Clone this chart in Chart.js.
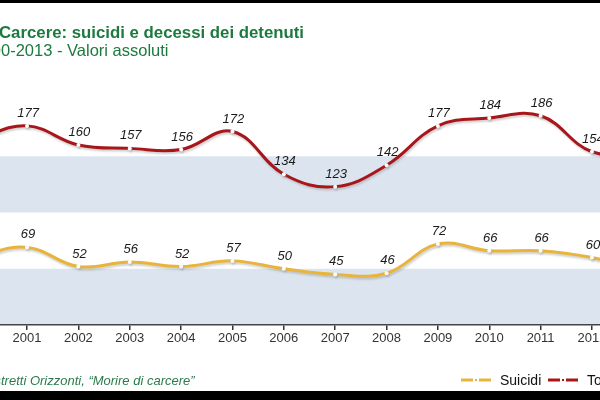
<!DOCTYPE html>
<html>
<head>
<meta charset="utf-8">
<script src="https://cdn.jsdelivr.net/npm/chart.js@4/dist/chart.umd.min.js"></script>
<style>
html,body{margin:0;padding:0;width:600px;height:400px;overflow:hidden;background:#fff;}
#wrap{position:absolute;left:-80px;top:0;width:780px;height:400px;}
</style>
</head>
<body>
<div id="wrap"><canvas id="c" width="780" height="400"></canvas></div>
<script>
const years = ['2000','2001','2002','2003','2004','2005','2006','2007','2008','2009','2010','2011','2012','2013'];
const suicidi = [61, 69, 52, 56, 52, 57, 50, 45, 46, 72, 66, 66, 60, 49];
const totale = [165, 177, 160, 157, 156, 172, 134, 123, 142, 177, 184, 186, 154, 153];
const seriesNames = ['Suicidi', 'Totale'];
const titleText = 'Carcere: suicidi e decessi dei detenuti';
const subtitleText = 'Anni 2000-2013 - Valori assoluti';
const sourceText = 'Fonte: Ristretti Orizzonti, \u201cMorire di carcere\u201d';

const OFF = 80; // canvas offset relative to page
const GREEN = '#1c7a3e';
const RED = '#a8161b';
const YEL = '#e9b43c';
const BAND = '#dce5ef';

const decor = {
  id: 'decor',
  beforeDraw(chart) {
    const {ctx, chartArea: a, scales: {y}} = chart;
    ctx.save();
    ctx.fillStyle = BAND;
    [[0,50],[100,150]].forEach(([lo,hi]) => {
      const t = y.getPixelForValue(hi), b = y.getPixelForValue(lo);
      ctx.fillRect(a.left, t, a.right - a.left, b - t);
    });
    ctx.restore();
  },
  beforeDatasetDraw(chart) {
    const ctx = chart.ctx;
    ctx.save();
    ctx.shadowColor = 'rgba(140,140,140,0.4)';
    ctx.shadowOffsetX = 1;
    ctx.shadowOffsetY = 2;
    ctx.shadowBlur = 2;
  },
  afterDatasetDraw(chart) {
    chart.ctx.restore();
  },
  afterDraw(chart) {
    const ctx = chart.ctx;
    ctx.save();
    // value labels
    ctx.font = 'italic 13px "Liberation Sans", Arial, sans-serif';
    ctx.fillStyle = '#1a1a1a';
    ctx.textAlign = 'center';
    ctx.textBaseline = 'alphabetic';
    chart.data.datasets.forEach((ds, i) => {
      const meta = chart.getDatasetMeta(i);
      meta.data.forEach((pt, j) => {
        ctx.fillText(String(ds.data[j]), pt.x + 1, pt.y - 9);
      });
    });
    // black bands
    ctx.fillStyle = '#000';
    ctx.fillRect(0, 0, chart.width, 3);
    ctx.fillRect(0, 391, chart.width, 9);
    // title
    ctx.textAlign = 'left';
    ctx.fillStyle = GREEN;
    ctx.font = 'bold 16.8px "Liberation Sans", Arial, sans-serif';
    ctx.fillText(titleText, OFF - 1, 38);
    ctx.font = '16.5px "Liberation Sans", Arial, sans-serif';
    const pre = ctx.measureText('Anni 200').width;
    ctx.fillText(subtitleText, OFF + 1 - pre, 56);
    // source
    ctx.font = 'italic 13px "Liberation Sans", Arial, sans-serif';
    ctx.fillStyle = '#2a7a4c';
    const pre2 = ctx.measureText('Fonte: Ris').width;
    ctx.fillText(sourceText, OFF + 1 - pre2, 385);
    // legend
    const items = [[seriesNames[0], YEL, 461], [seriesNames[1], RED, 548]];
    ctx.font = '14px "Liberation Sans", Arial, sans-serif';
    items.forEach(([name, col, px]) => {
      const x = OFF + px, yy = 380;
      ctx.strokeStyle = col;
      ctx.lineWidth = 3;
      ctx.beginPath(); ctx.moveTo(x, yy); ctx.lineTo(x + 12, yy); ctx.stroke();
      ctx.beginPath(); ctx.moveTo(x + 18, yy); ctx.lineTo(x + 30, yy); ctx.stroke();
      ctx.fillStyle = col;
      ctx.fillRect(x + 14, yy - 1, 2, 2);
      ctx.fillStyle = '#111';
      ctx.fillText(name, x + 39, yy + 5);
    });
    ctx.restore();
  }
};

new Chart(document.getElementById('c'), {
  type: 'line',
  data: {
    labels: years,
    datasets: [
      { label: seriesNames[1], data: totale, borderColor: RED, borderWidth: 3, tension: 0.4,
        pointRadius: 2, pointBackgroundColor: '#fff', pointBorderWidth: 0, fill: false },
      { label: seriesNames[0], data: suicidi, borderColor: YEL, borderWidth: 3, tension: 0.4,
        pointRadius: 2, pointBackgroundColor: '#fff', pointBorderWidth: 0, fill: false }
    ]
  },
  options: {
    responsive: false,
    animation: false,
    layout: { padding: { left: 30, right: 31, top: 100, bottom: 0 } },
    plugins: { legend: { display: false }, tooltip: { enabled: false }, title: { display: false } },
    scales: {
      y: { display: false, min: 0, max: 200 },
      x: {
        offset: true,
        grid: { display: true, drawOnChartArea: false, offset: false, tickLength: 5, color: '#333', lineWidth: 1.5 },
        border: { display: true, color: '#444', width: 1.5 },
        ticks: { color: '#333', font: { size: 13, family: '"Liberation Sans", Arial, sans-serif' }, padding: 1, maxRotation: 0, autoSkip: false },
        afterFit(scale) { scale.height = 75; }
      }
    }
  },
  plugins: [decor]
});
</script>
</body>
</html>
